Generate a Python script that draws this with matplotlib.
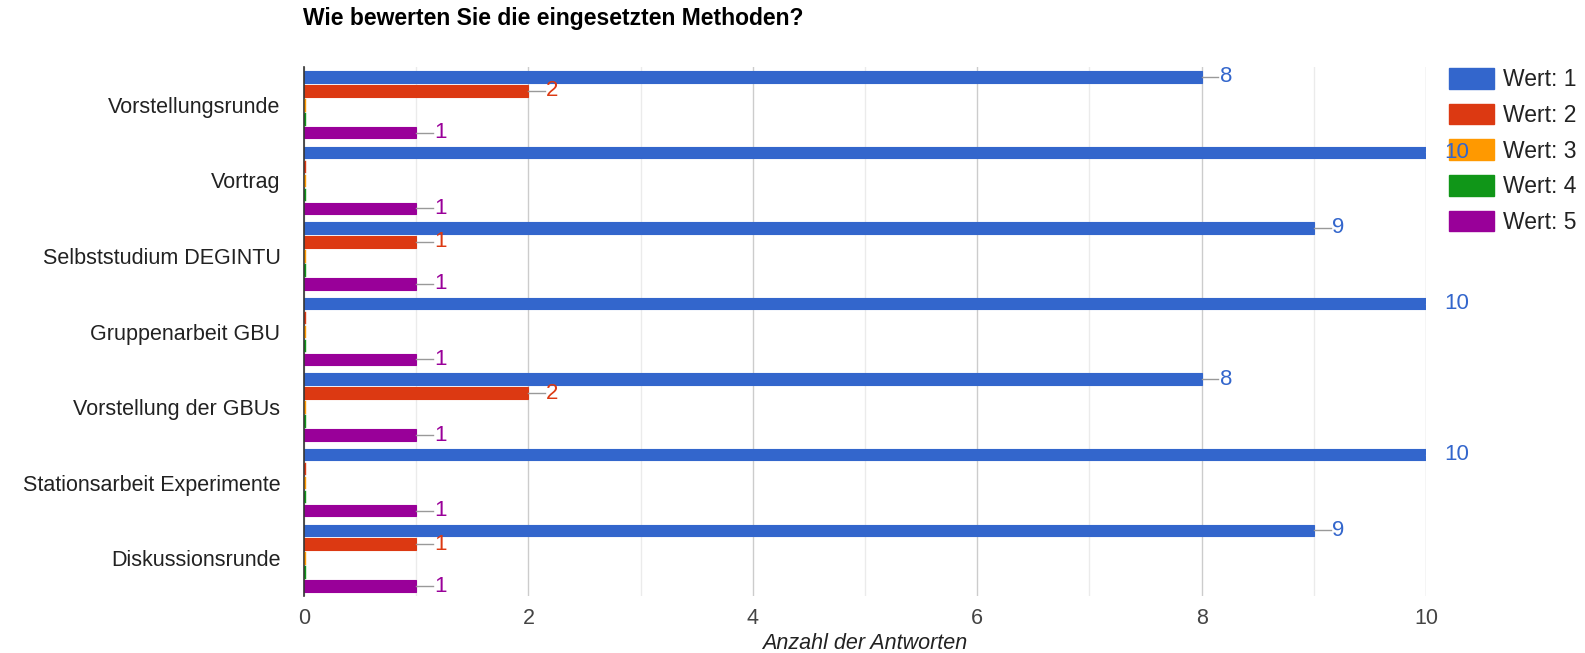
# IMPORTS---------------------------------------------------------------------------------------------------------------
import numpy as np
import matplotlib
matplotlib.use("Agg")
import matplotlib.pyplot as plt
from matplotlib.patches import Patch

# DATA------------------------------------------------------------------------------------------------------------------
categories = ["Vorstellungsrunde", "Vortrag", "Selbststudium DEGINTU", "Gruppenarbeit GBU",
              "Vorstellung der GBUs", "Stationsarbeit Experimente", "Diskussionsrunde"]
series_names = ["Wert: 1", "Wert: 2", "Wert: 3", "Wert: 4", "Wert: 5"]
wert1 = [8, 10, 9, 10, 8, 10, 9]
wert2 = [2, 0, 1, 0, 2, 0, 1]
wert3 = [0, 0, 0, 0, 0, 0, 0]
wert4 = [0, 0, 0, 0, 0, 0, 0]
wert5 = [1, 1, 1, 1, 1, 1, 1]
colors = ["#3366cc", "#dc3912", "#ff9900", "#109618", "#990099"]

title = "Wie bewerten Sie die eingesetzten Methoden?"
x_label = "Anzahl der Antworten"

# PLOT------------------------------------------------------------------------------------------------------------------
plt.rcParams['font.family'] = ['Liberation Sans', 'DejaVu Sans']

fig = plt.figure(figsize=(15.85, 6.53), dpi=100)
ax = fig.add_axes([304 / 1585, 1 - 596 / 653, 1122 / 1585, 529 / 653])

all_series = [wert1, wert2, wert3, wert4, wert5]
y = np.arange(len(categories))
step = 0.185
bar_h = 0.152

for j, vals in enumerate(all_series):
    pos = y + (j - 2) * step
    ax.barh(pos, vals, height=bar_h, color=colors[j], edgecolor=colors[j], linewidth=0.8, zorder=3)
    for p, v in zip(pos, vals):
        if v == 0:
            # zero values still leave a thin sliver at the baseline
            ax.plot([0.012, 0.012], [p - bar_h / 2, p + bar_h / 2], color=colors[j], lw=1, zorder=6)
            continue
        # short grey leader line, clipped at the right edge like the original
        ax.plot([v, v + 0.15], [p, p], color="#999999", lw=1, zorder=3)
        ax.text(v + 0.16, p, str(v), color=colors[j], fontsize=16, va="center", ha="left",
                clip_on=False, zorder=7)

ax.set_xlim(0, 10)
ax.set_ylim(len(categories) - 0.5, -0.5)

ax.set_xticks(np.arange(0, 11, 2))
ax.set_xticks(np.arange(1, 10, 2), minor=True)
ax.grid(axis="x", which="major", color="#cccccc", lw=1, zorder=0)
ax.grid(axis="x", which="minor", color="#ebebeb", lw=1, zorder=0)
ax.tick_params(axis="x", which="both", length=0, pad=9, labelsize=15.5, labelcolor="#444444")

ax.set_yticks(y)
ax.set_yticklabels(categories)
ax.tick_params(axis="y", length=0, pad=17, labelsize=15.5, labelcolor="#222222")

for s in ["top", "right", "bottom"]:
    ax.spines[s].set_visible(False)
ax.spines["left"].set_color("#333333")
ax.spines["left"].set_linewidth(1.2)
ax.spines["left"].set_zorder(5)

ax.set_xlabel(x_label, fontsize=15.5, style="italic", color="#222222", labelpad=2.5)

fig.text(303 / 1585, 1 - 19 / 653, title, fontsize=16.5, fontweight="bold", va="center", ha="left")

# legend lives in the axes so the value label "10" can sit on top of it
handles = [Patch(facecolor=c, edgecolor=c) for c in colors]
leg = ax.legend(handles, series_names, loc="upper left", bbox_to_anchor=(1449 / 1585, 1 - 68 / 653),
                bbox_transform=fig.transFigure, frameon=False, fontsize=16.5, handlelength=1.95,
                handleheight=1.0, handletextpad=0.4, labelspacing=0.55, borderpad=0, borderaxespad=0,
                labelcolor="#222222")
leg.set_zorder(5)

plt.savefig("out.png", dpi=100)
